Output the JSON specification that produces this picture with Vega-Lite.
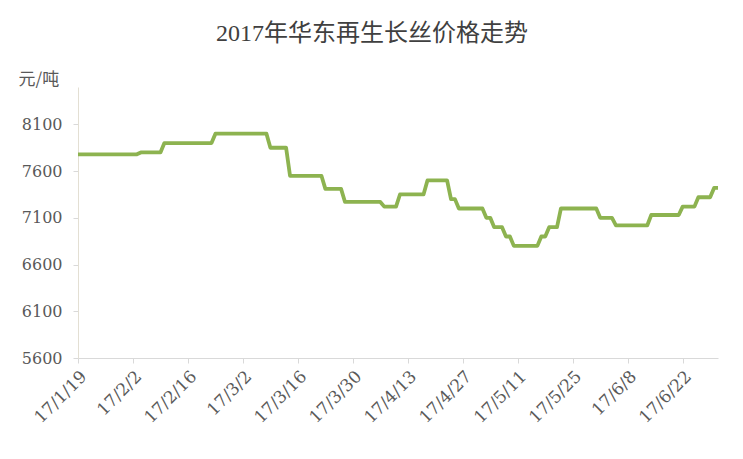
{
  "$schema": "https://vega.github.io/schema/vega-lite/v6.json",
  "width": 640,
  "height": 271,
  "autosize": {"type": "none"},
  "padding": {"left": 78, "top": 87, "right": 25, "bottom": 101},
  "background": "white",
  "config": {"view": {"stroke": null}},
  "title": {
    "text": "2017年华东再生长丝价格走势",
    "font": "Liberation Serif, Noto Sans CJK SC",
    "fontSize": 24,
    "fontWeight": "normal",
    "color": "#404040",
    "anchor": "middle",
    "dx": -26,
    "offset": 24
  },
  "data": {
    "values": [
      {"date": "2017-01-19", "price": 7780},
      {"date": "2017-02-03", "price": 7780},
      {"date": "2017-02-04", "price": 7800},
      {"date": "2017-02-09", "price": 7800},
      {"date": "2017-02-10", "price": 7900},
      {"date": "2017-02-22", "price": 7900},
      {"date": "2017-02-23", "price": 8000},
      {"date": "2017-03-08", "price": 8000},
      {"date": "2017-03-09", "price": 7850},
      {"date": "2017-03-13", "price": 7850},
      {"date": "2017-03-14", "price": 7550},
      {"date": "2017-03-22", "price": 7550},
      {"date": "2017-03-23", "price": 7410},
      {"date": "2017-03-27", "price": 7410},
      {"date": "2017-03-28", "price": 7270},
      {"date": "2017-04-06", "price": 7270},
      {"date": "2017-04-07", "price": 7220},
      {"date": "2017-04-10", "price": 7220},
      {"date": "2017-04-11", "price": 7350},
      {"date": "2017-04-17", "price": 7350},
      {"date": "2017-04-18", "price": 7500},
      {"date": "2017-04-23", "price": 7500},
      {"date": "2017-04-24", "price": 7300},
      {"date": "2017-04-25", "price": 7300},
      {"date": "2017-04-26", "price": 7200},
      {"date": "2017-05-02", "price": 7200},
      {"date": "2017-05-03", "price": 7100},
      {"date": "2017-05-04", "price": 7100},
      {"date": "2017-05-05", "price": 7000},
      {"date": "2017-05-07", "price": 7000},
      {"date": "2017-05-08", "price": 6900},
      {"date": "2017-05-09", "price": 6900},
      {"date": "2017-05-10", "price": 6800},
      {"date": "2017-05-16", "price": 6800},
      {"date": "2017-05-17", "price": 6900},
      {"date": "2017-05-18", "price": 6900},
      {"date": "2017-05-19", "price": 7000},
      {"date": "2017-05-21", "price": 7000},
      {"date": "2017-05-22", "price": 7200},
      {"date": "2017-05-31", "price": 7200},
      {"date": "2017-06-01", "price": 7100},
      {"date": "2017-06-04", "price": 7100},
      {"date": "2017-06-05", "price": 7020},
      {"date": "2017-06-13", "price": 7020},
      {"date": "2017-06-14", "price": 7130},
      {"date": "2017-06-21", "price": 7130},
      {"date": "2017-06-22", "price": 7220},
      {"date": "2017-06-25", "price": 7220},
      {"date": "2017-06-26", "price": 7320},
      {"date": "2017-06-29", "price": 7320},
      {"date": "2017-06-30", "price": 7420},
      {"date": "2017-07-01", "price": 7420}
    ]
  },
  "mark": {"type": "line", "color": "#8db350", "strokeWidth": 3.8, "strokeJoin": "round", "strokeCap": "butt"},
  "encoding": {
    "x": {
      "field": "date",
      "type": "temporal",
      "scale": {
        "type": "utc",
        "nice": false,
        "domain": [
          {"year": 2017, "month": 1, "date": 19, "utc": true},
          {"year": 2017, "month": 7, "date": 1, "utc": true}
        ]
      },
      "axis": {
        "title": null,
        "format": "%y/%-m/%-d",
        "values": [
          {"year": 2017, "month": 1, "date": 19, "utc": true},
          {"year": 2017, "month": 2, "date": 2, "utc": true},
          {"year": 2017, "month": 2, "date": 16, "utc": true},
          {"year": 2017, "month": 3, "date": 2, "utc": true},
          {"year": 2017, "month": 3, "date": 16, "utc": true},
          {"year": 2017, "month": 3, "date": 30, "utc": true},
          {"year": 2017, "month": 4, "date": 13, "utc": true},
          {"year": 2017, "month": 4, "date": 27, "utc": true},
          {"year": 2017, "month": 5, "date": 11, "utc": true},
          {"year": 2017, "month": 5, "date": 25, "utc": true},
          {"year": 2017, "month": 6, "date": 8, "utc": true},
          {"year": 2017, "month": 6, "date": 22, "utc": true}
        ],
        "labelAngle": -45,
        "labelFont": "DejaVu Serif",
        "labelFontSize": 17,
        "labelColor": "#595959",
        "labelPadding": 5,
        "labelOverlap": false,
        "labelFlush": false,
        "grid": false,
        "domainColor": "#d9d9d9",
        "domainWidth": 1,
        "tickColor": "#d9d9d9",
        "tickSize": 5
      }
    },
    "y": {
      "field": "price",
      "type": "quantitative",
      "scale": {"domain": [5600, 8500], "nice": false, "zero": false},
      "axis": {
        "values": [5600, 6100, 6600, 7100, 7600, 8100],
        "format": "d",
        "title": "元/吨",
        "titleFont": "Noto Sans CJK SC",
        "titleFontSize": 17,
        "titleFontWeight": "normal",
        "titleColor": "#595959",
        "titleAngle": 0,
        "titleAlign": "left",
        "titleBaseline": "alphabetic",
        "titleX": -60,
        "titleY": -3,
        "labelFont": "DejaVu Serif",
        "labelFontSize": 16,
        "labelColor": "#595959",
        "labelPadding": 11,
        "grid": false,
        "domainColor": "#e3dfd3",
        "domainWidth": 1,
        "tickColor": "#d9d9d9",
        "tickSize": 5
      }
    }
  }
}
